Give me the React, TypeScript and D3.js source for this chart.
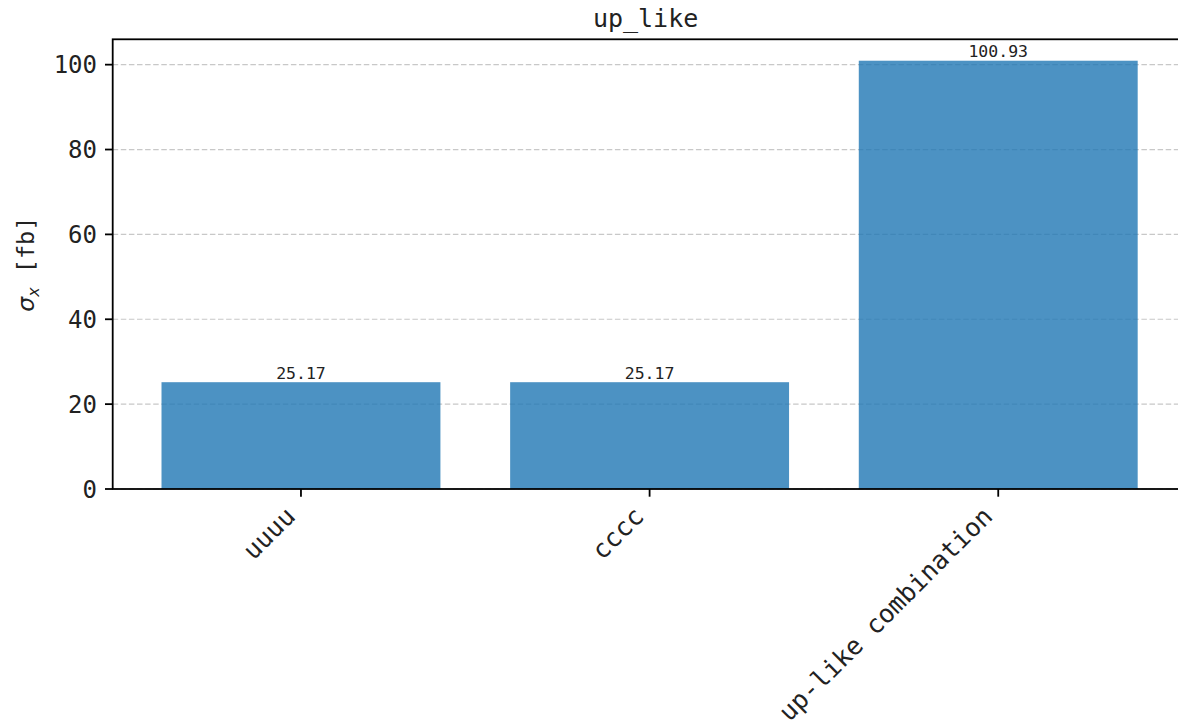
import React from "react";
import * as d3 from "d3";

const categories = ["uuuu", "cccc", "up-like combination"];
const values = [25.17, 25.17, 100.93];
const valueLabels = ["25.17", "25.17", "100.93"];
const yTicks = [0, 20, 40, 60, 80, 100];
const title = "up_like";

const W = 1178;
const H = 721;
const MONO = "'DejaVu Sans Mono', monospace";

export default function App() {
  const left = 112.7;
  const top = 39.3;
  const bottom = 489;
  const right = 1186.5;
  const x = d3.scaleLinear().domain([-0.54, categories.length - 1 + 0.54]).range([left, right]);
  const yMax = (d3.max(values) as number) * 1.05;
  const y = d3.scaleLinear().domain([0, yMax]).range([bottom, top]);
  const barW = x(0.8) - x(0);
  const tickLen = 7.7;
  const fs = 24;
  const xfs = 25.3;
  const a = 0.76 * xfs;
  const dsc = 0.24 * xfs;
  const s2 = Math.SQRT2;

  return (
    <svg width={W} height={H} style={{ position: "absolute", left: 0, top: 0, background: "#fff" }}>
      <rect x={0} y={0} width={W} height={H} fill="#fff" />
      {yTicks.map((t) => (
        <line key={"g" + t} x1={left} x2={right} y1={y(t)} y2={y(t)} stroke="#c8c8c8" strokeWidth={1.2} strokeDasharray="5.5,2.6" />
      ))}
      {values.map((v, i) => (
        <rect key={"b" + i} x={x(i) - barW / 2} y={y(v)} width={barW} height={y(0) - y(v)} fill="#1f77b4" fillOpacity={0.8} />
      ))}
      {values.map((v, i) => (
        <text key={"l" + i} x={x(i)} y={y(v) - 3.5} textAnchor="middle" fontFamily={MONO} fontSize={16.5} fill="#222">
          {valueLabels[i]}
        </text>
      ))}
      <rect x={left} y={top} width={right - left} height={bottom - top} fill="none" stroke="#000" strokeWidth={1.8} />
      {yTicks.map((t) => (
        <g key={"yt" + t}>
          <line x1={left - tickLen} x2={left} y1={y(t)} y2={y(t)} stroke="#000" strokeWidth={1.8} />
          <text x={left - tickLen - 8} y={y(t)} dy="0.36em" textAnchor="end" fontFamily={MONO} fontSize={fs} fill="#222">
            {t}
          </text>
        </g>
      ))}
      {categories.map((c, i) => {
        const tx = x(i);
        const ty = bottom + tickLen + 7.7;
        const ax = tx - dsc / s2;
        const ay = ty + a / s2;
        return (
          <g key={"xt" + i}>
            <line x1={tx} x2={tx} y1={bottom} y2={bottom + tickLen} stroke="#000" strokeWidth={1.8} />
            <text x={ax} y={ay} textAnchor="end" transform={`rotate(-45 ${ax} ${ay})`} fontFamily={MONO} fontSize={xfs} fill="#222">
              {c}
            </text>
          </g>
        );
      })}
      <text x={(left + right) / 2 - 4} y={27} textAnchor="middle" fontFamily={MONO} fontSize={25} fill="#222">
        {title}
      </text>
      <text x={0} y={0} transform={`translate(34 ${(top + bottom) / 2}) rotate(-90)`} textAnchor="middle" fontFamily={MONO} fontSize={23.5} fill="#222">
        <tspan fontFamily="'DejaVu Sans', sans-serif" fontStyle="italic">σ</tspan>
        <tspan fontFamily="'DejaVu Sans', sans-serif" fontStyle="italic" fontSize={16} dy={5}>x</tspan>
        <tspan dy={-5}> [fb]</tspan>
      </text>
    </svg>
  );
}
